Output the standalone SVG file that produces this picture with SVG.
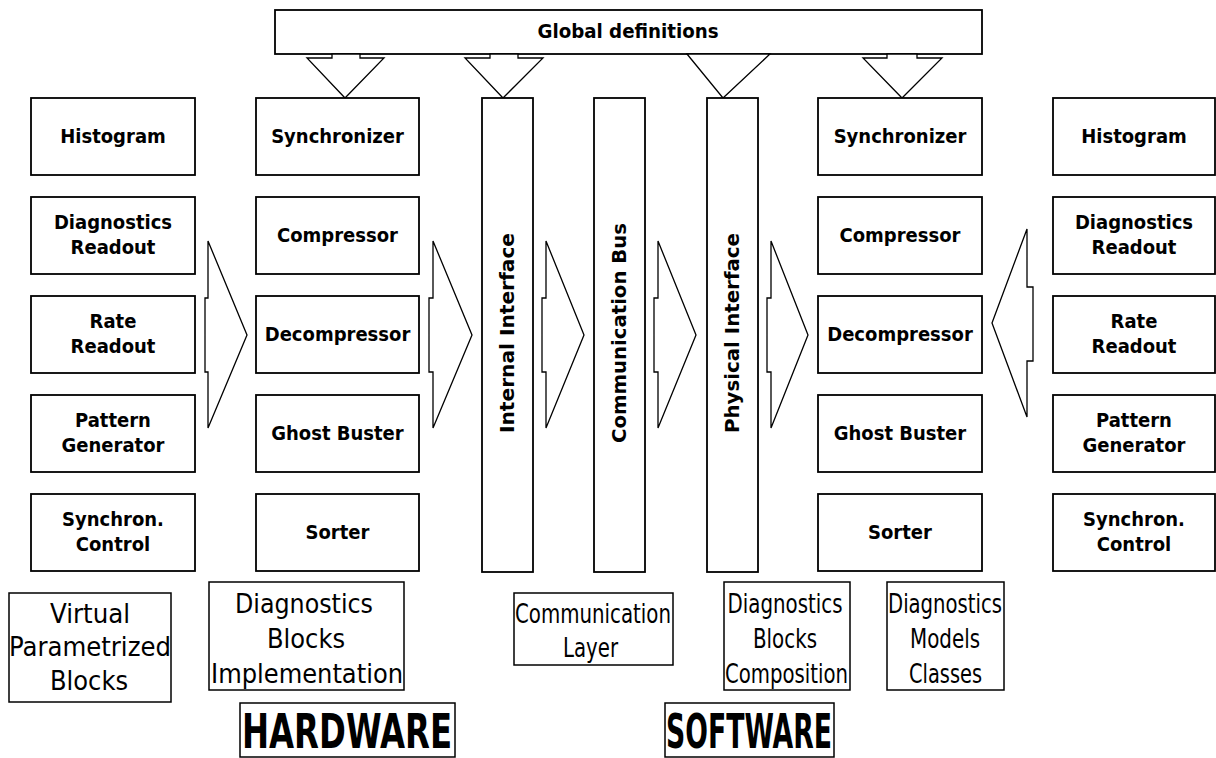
<svg xmlns="http://www.w3.org/2000/svg" width="1216" height="758" viewBox="0 0 1216 758">
  <style>
    .box { fill: #fff; stroke: #000; stroke-width: 1.8; }
    .lbox { fill: #fff; stroke: #000; stroke-width: 1.5; }
    .arrow { fill: #fff; stroke: #000; stroke-width: 1.3; stroke-linejoin: miter; }
    .lbl { font-family: "DejaVu Sans Condensed", "DejaVu Sans", sans-serif; font-stretch: condensed; font-weight: bold; font-size: 20px; fill: #000; text-anchor: middle; }
    .big { font-family: "DejaVu Sans Condensed", "DejaVu Sans", sans-serif; font-stretch: condensed; font-size: 26px; fill: #000; text-anchor: middle; }
    .title { font-family: "DejaVu Sans Condensed", "DejaVu Sans", sans-serif; font-stretch: condensed; font-weight: bold; font-size: 48px; fill: #000; text-anchor: middle; }
  </style>
  <rect width="1216" height="758" fill="#fff"/>

  <!-- global definitions bar -->
  <g id="global-definitions">
    <rect class="box" x="275" y="10" width="707" height="44"/>
    <text class="lbl" x="628" y="38" textLength="181" lengthAdjust="spacingAndGlyphs">Global definitions</text>
  </g>

  <!-- connectors: block arrows -->
  <g id="connectors">
    <!-- down arrows from the global bar -->
    <polygon class="arrow" points="332,54 332,58 307,58 345,98 384,58 360,58 360,54"/>
    <polygon class="arrow" points="490,54 490,58 465,58 503,98 543,58 518,58 518,54"/>
    <polygon class="arrow" points="687,54 723,98 770,54"/>
    <polygon class="arrow" points="887,54 887,58 863,58 902,98 942,58 917,58 917,54"/>
    <!-- right-pointing arrows -->
    <polygon class="arrow" points="208,241 247,335 208,428 208,372 205,372 205,298 208,298"/>
    <polygon class="arrow" points="433,241 472,335 433,428 433,372 429,372 429,298 433,298"/>
    <polygon class="arrow" points="546,241 584,335 546,428 546,372 542,372 542,298 546,298"/>
    <polygon class="arrow" points="658,241 696,335 658,428 658,372 654,372 654,298 658,298"/>
    <polygon class="arrow" points="771,241 808,335 771,428 771,372 767,372 767,298 771,298"/>
    <!-- left-pointing arrow -->
    <polygon class="arrow" points="1027,229 992,323 1027,417 1027,361 1033,361 1033,287 1027,287"/>
  </g>

  <!-- virtual parametrized blocks (left) -->
  <g id="left-histogram">
    <rect class="box" x="31" y="98" width="164" height="77"/>
    <text class="lbl" x="113" y="143">Histogram</text>
  </g>
  <g id="left-diagnostics-readout">
    <rect class="box" x="31" y="197" width="164" height="77"/>
    <text class="lbl" x="113" y="229">Diagnostics</text>
    <text class="lbl" x="113" y="254">Readout</text>
  </g>
  <g id="left-rate-readout">
    <rect class="box" x="31" y="296" width="164" height="77"/>
    <text class="lbl" x="113" y="328">Rate</text>
    <text class="lbl" x="113" y="353">Readout</text>
  </g>
  <g id="left-pattern-generator">
    <rect class="box" x="31" y="395" width="164" height="77"/>
    <text class="lbl" x="113" y="427">Pattern</text>
    <text class="lbl" x="113" y="452">Generator</text>
  </g>
  <g id="left-synchron-control">
    <rect class="box" x="31" y="494" width="164" height="77"/>
    <text class="lbl" x="113" y="526">Synchron.</text>
    <text class="lbl" x="113" y="551">Control</text>
  </g>

  <!-- hardware implementation blocks -->
  <g id="hw-synchronizer">
    <rect class="box" x="256" y="98" width="163" height="77"/>
    <text class="lbl" x="337.5" y="143">Synchronizer</text>
  </g>
  <g id="hw-compressor">
    <rect class="box" x="256" y="197" width="163" height="77"/>
    <text class="lbl" x="337.5" y="242">Compressor</text>
  </g>
  <g id="hw-decompressor">
    <rect class="box" x="256" y="296" width="163" height="77"/>
    <text class="lbl" x="337.5" y="341">Decompressor</text>
  </g>
  <g id="hw-ghost-buster">
    <rect class="box" x="256" y="395" width="163" height="77"/>
    <text class="lbl" x="337.5" y="440">Ghost Buster</text>
  </g>
  <g id="hw-sorter">
    <rect class="box" x="256" y="494" width="163" height="77"/>
    <text class="lbl" x="337.5" y="539">Sorter</text>
  </g>

  <!-- communication layer columns -->
  <g id="internal-interface">
    <rect class="box" x="482" y="98" width="51" height="474"/>
    <text class="lbl" transform="translate(513.5,433) rotate(-90)" x="0" y="0" style="text-anchor:start" textLength="200" lengthAdjust="spacingAndGlyphs">Internal Interface</text>
  </g>
  <g id="communication-bus">
    <rect class="box" x="594" y="98" width="51" height="474"/>
    <text class="lbl" transform="translate(625.5,443) rotate(-90)" x="0" y="0" style="text-anchor:start" textLength="220" lengthAdjust="spacingAndGlyphs">Communication Bus</text>
  </g>
  <g id="physical-interface">
    <rect class="box" x="707" y="98" width="51" height="474"/>
    <text class="lbl" transform="translate(738.5,433) rotate(-90)" x="0" y="0" style="text-anchor:start" textLength="200" lengthAdjust="spacingAndGlyphs">Physical Interface</text>
  </g>

  <!-- software composition blocks -->
  <g id="sw-synchronizer">
    <rect class="box" x="818" y="98" width="164" height="77"/>
    <text class="lbl" x="900" y="143">Synchronizer</text>
  </g>
  <g id="sw-compressor">
    <rect class="box" x="818" y="197" width="164" height="77"/>
    <text class="lbl" x="900" y="242">Compressor</text>
  </g>
  <g id="sw-decompressor">
    <rect class="box" x="818" y="296" width="164" height="77"/>
    <text class="lbl" x="900" y="341">Decompressor</text>
  </g>
  <g id="sw-ghost-buster">
    <rect class="box" x="818" y="395" width="164" height="77"/>
    <text class="lbl" x="900" y="440">Ghost Buster</text>
  </g>
  <g id="sw-sorter">
    <rect class="box" x="818" y="494" width="164" height="77"/>
    <text class="lbl" x="900" y="539">Sorter</text>
  </g>

  <!-- diagnostics model classes (right) -->
  <g id="right-histogram">
    <rect class="box" x="1053" y="98" width="162" height="77"/>
    <text class="lbl" x="1134" y="143">Histogram</text>
  </g>
  <g id="right-diagnostics-readout">
    <rect class="box" x="1053" y="197" width="162" height="77"/>
    <text class="lbl" x="1134" y="229">Diagnostics</text>
    <text class="lbl" x="1134" y="254">Readout</text>
  </g>
  <g id="right-rate-readout">
    <rect class="box" x="1053" y="296" width="162" height="77"/>
    <text class="lbl" x="1134" y="328">Rate</text>
    <text class="lbl" x="1134" y="353">Readout</text>
  </g>
  <g id="right-pattern-generator">
    <rect class="box" x="1053" y="395" width="162" height="77"/>
    <text class="lbl" x="1134" y="427">Pattern</text>
    <text class="lbl" x="1134" y="452">Generator</text>
  </g>
  <g id="right-synchron-control">
    <rect class="box" x="1053" y="494" width="162" height="77"/>
    <text class="lbl" x="1134" y="526">Synchron.</text>
    <text class="lbl" x="1134" y="551">Control</text>
  </g>

  <!-- layer captions -->
  <g id="caption-virtual">
    <rect class="lbox" x="9" y="593" width="162" height="109"/>
    <text class="big" x="90" y="623" textLength="80" lengthAdjust="spacingAndGlyphs">Virtual</text>
    <text class="big" x="90" y="656" textLength="162" lengthAdjust="spacingAndGlyphs">Parametrized</text>
    <text class="big" x="89" y="690" textLength="78" lengthAdjust="spacingAndGlyphs">Blocks</text>
  </g>
  <g id="caption-hw-implementation">
    <rect class="lbox" x="209" y="582" width="195" height="108"/>
    <text class="big" x="304" y="613" textLength="138" lengthAdjust="spacingAndGlyphs">Diagnostics</text>
    <text class="big" x="306" y="648" textLength="78" lengthAdjust="spacingAndGlyphs">Blocks</text>
    <text class="big" x="307" y="683" textLength="192" lengthAdjust="spacingAndGlyphs">Implementation</text>
  </g>
  <g id="caption-communication">
    <rect class="lbox" x="514" y="593" width="159" height="72"/>
    <text class="big" x="593" y="623" textLength="156" lengthAdjust="spacingAndGlyphs">Communication</text>
    <text class="big" x="590.5" y="657" textLength="55" lengthAdjust="spacingAndGlyphs">Layer</text>
  </g>
  <g id="caption-sw-composition">
    <rect class="lbox" x="724" y="582" width="126" height="108"/>
    <text class="big" x="785" y="613" textLength="115" lengthAdjust="spacingAndGlyphs">Diagnostics</text>
    <text class="big" x="785" y="648" textLength="64" lengthAdjust="spacingAndGlyphs">Blocks</text>
    <text class="big" x="786.5" y="683" textLength="123" lengthAdjust="spacingAndGlyphs">Composition</text>
  </g>
  <g id="caption-model-classes">
    <rect class="lbox" x="887" y="582" width="117" height="108"/>
    <text class="big" x="945" y="613" textLength="114" lengthAdjust="spacingAndGlyphs">Diagnostics</text>
    <text class="big" x="945" y="648" textLength="70" lengthAdjust="spacingAndGlyphs">Models</text>
    <text class="big" x="945.5" y="683" textLength="73" lengthAdjust="spacingAndGlyphs">Classes</text>
  </g>

  <g id="hardware-title">
    <rect class="lbox" x="240" y="703" width="215" height="54"/>
    <text class="title" x="347" y="748" textLength="210" lengthAdjust="spacingAndGlyphs">HARDWARE</text>
  </g>
  <g id="software-title">
    <rect class="lbox" x="665" y="703" width="169" height="54"/>
    <text class="title" x="749" y="748" textLength="166" lengthAdjust="spacingAndGlyphs">SOFTWARE</text>
  </g>
</svg>
